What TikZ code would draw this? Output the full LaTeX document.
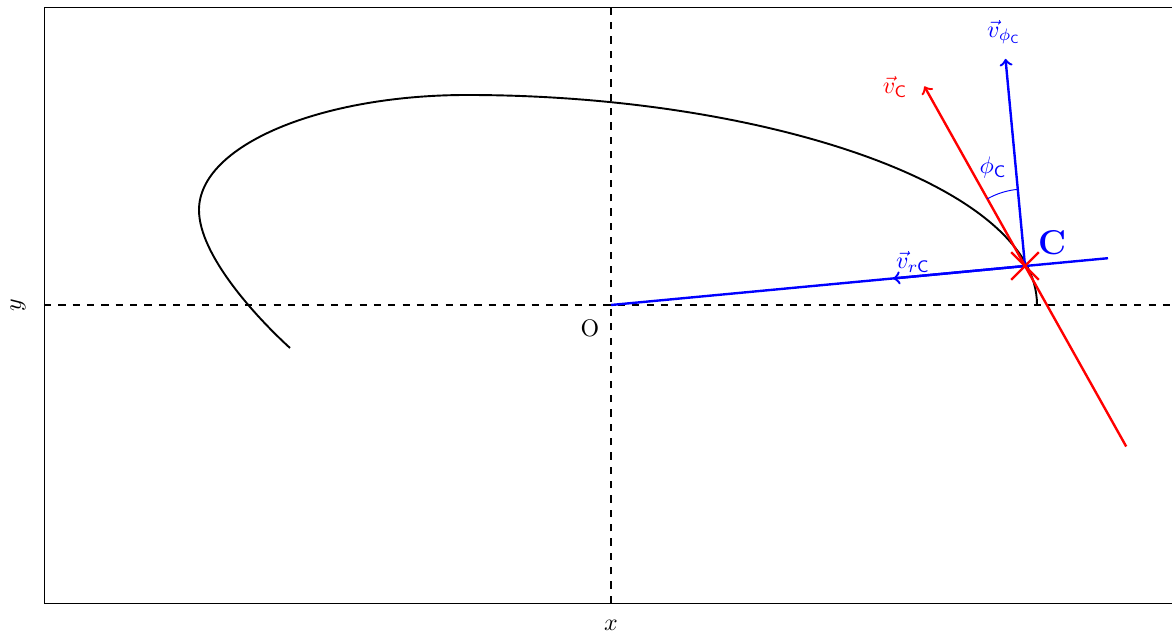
\documentclass[tikz,border=0pt]{standalone}
\usepackage{amsmath}
\usepackage{xcolor}
\usepackage{tikz}
\usetikzlibrary{calc,shapes.misc}
\tikzset{
  frame/.style={thin,black},
  axis/.style={dashed,thick,black},
  orbit/.style={thick,black},
  radline/.style={line width=1pt,blue},
  bluevec/.style={->,line width=1pt,blue},
  redvec/.style={->,line width=1pt,red},
  anglearc/.style={thin,blue},
  cmark/.style={cross out,draw=red,line width=1pt,minimum size=3.7mm,inner sep=0pt},
  veclabel/.style={inner sep=1pt}
}
\begin{document}
\begin{tikzpicture}[x=1.47cm,y=1.47cm]
  \useasboundingbox (-6.11,-3.29) rectangle (5.61,3.05);
  \clip (-6.11,-3.29) rectangle (5.61,3.05);
  \coordinate (bl)     at (-5.67,-2.98);
  \coordinate (tr)     at ( 5.67, 2.98);
  \coordinate (xl)     at (-5.67, 0.00);
  \coordinate (xr)     at ( 5.67, 0.00);
  \coordinate (yb)     at ( 0.00,-2.98);
  \coordinate (yt)     at ( 0.00, 2.98);
  \coordinate (O)      at ( 0.00, 0.00);
  \coordinate (C)      at ( 4.14, 0.39);
  \coordinate (rend)   at ( 4.97, 0.468);
  \coordinate (vr)     at ( 2.82, 0.265);
  \coordinate (vphi)   at ( 3.945,2.461);
  \coordinate (vc)     at ( 3.133,2.187);
  \coordinate (vcback) at ( 5.152,-1.415);
  % frame and axes
  \draw[frame] (bl) rectangle (tr);
  \draw[axis] (xl) -- (xr);
  \draw[axis] (yb) -- (yt);
  \node (xlab) at (0,-3.20) {$x$};
  \node[rotate=90] (ylab) at (-5.93,0) {$y$};
  \node (Olab) at (-0.21,-0.23) {O};
  % trajectory
  \draw[orbit] (4.26,0.00) .. controls (4.26,1.20) and (1.50,2.10) .. (-1.44,2.10)
    .. controls (-2.90,2.10) and (-4.12,1.60) .. (-4.12,0.95)
    .. controls (-4.12,0.50) and (-3.55,-0.12) .. (-3.21,-0.43);
  % vectors at C
  \draw[radline] (O) -- (rend);
  \draw[bluevec] (C) -- (vr);
  \draw[bluevec] (C) -- (vphi);
  \draw[redvec] (vcback) -- (vc);
  \draw[anglearc] (C) ++(95.38:0.77) arc[start angle=95.38,end angle=119.3,radius=0.77];
  \node[cmark] (Cx) at (C) {};
  \node[veclabel,text=red]  (vclab)   at (2.84,2.18) {$\vec{v}_{\mathsf{C}}$};
  \node[veclabel,text=blue] (vphilab) at (3.93,2.73) {$\vec{v}_{\phi_{\mathsf{C}}}$};
  \node[veclabel,text=blue] (vrlab)   at (3.02,0.43) {$\vec{v}_{r\mathsf{C}}$};
  \node[veclabel,text=blue] (philab)  at (3.82,1.37) {$\phi_{\mathsf{C}}$};
  \node[veclabel,text=blue,font=\Large\bfseries] (Clab) at (4.41,0.62) {C};
\end{tikzpicture}
\end{document}
